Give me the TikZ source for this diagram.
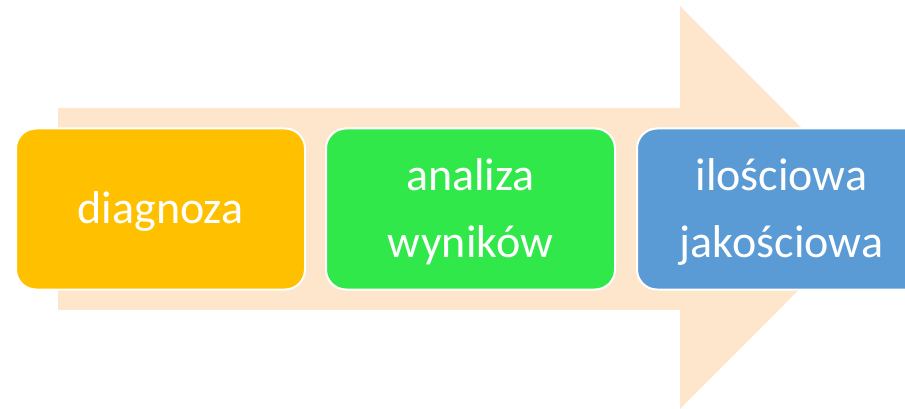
\documentclass[tikz,border=0pt]{standalone}
\usepackage{fontspec}
\setmainfont{Carlito}
\definecolor{arrowfill}{HTML}{FDE6CC}
\definecolor{boxorange}{HTML}{FFC000}
\definecolor{boxgreen}{HTML}{30E84A}
\definecolor{boxblue}{HTML}{5B9BD5}
\begin{document}
\begin{tikzpicture}[x=1pt,y=-1pt,
  stage/.style={draw=white,line width=2pt,rounded corners=20pt,minimum width=289pt,minimum height=161pt,inner sep=0pt},
  stagetext/.style={text=white,align=center,font=\fontsize{46}{67}\selectfont,inner sep=0pt}]
\useasboundingbox (0,0) rectangle (905,409);
\clip (0,0) rectangle (905,409);
\fill[arrowfill] (58,108) -- (680,108) -- (680,6) -- (881,207.5) -- (680,409) -- (680,310) -- (58,310) -- cycle;
\node[stage,fill=boxorange] (diag) at (160.5,209) {};
\node[stage,fill=boxgreen] (anal) at (470.5,209) {};
\node[stage,fill=boxblue] (ilos) at (781.5,209) {};
\node[stagetext] (diagt) at ([yshift=-2pt]diag.center) {diagnoza};
\node[stagetext] (analt) at ([yshift=-3pt]anal.center) {analiza\\wyników};
\node[stagetext] (ilost) at ([yshift=-3pt]ilos.center) {ilościowa\\jakościowa};
\end{tikzpicture}
\end{document}
